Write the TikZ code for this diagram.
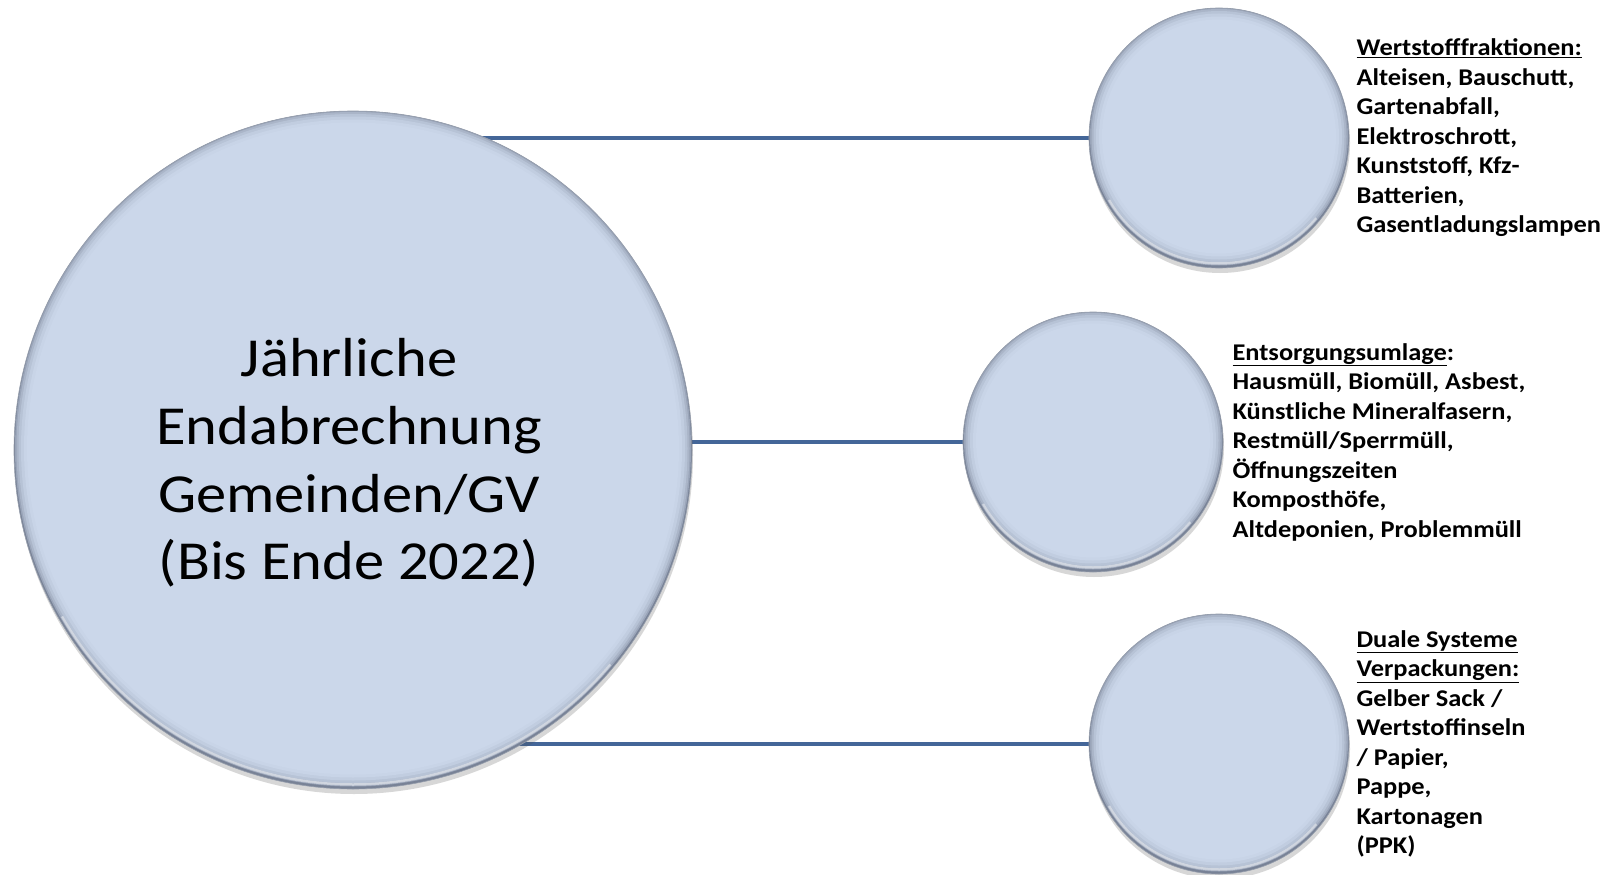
\documentclass[tikz,border=0pt]{standalone}
\usepackage{fontspec}
\setmainfont{Carlito}[FakeStretch=1.1]
\usetikzlibrary{shadows,backgrounds}
\definecolor{cfill}{RGB}{203,215,234}
\definecolor{cedge}{RGB}{120,130,150}
\definecolor{crim}{RGB}{150,158,172}
\definecolor{linkblue}{RGB}{68,102,152}
\tikzset{
  bubble/.style={circle, inner sep=0pt, minimum size=2*#1, fill=cedge, draw=crim, line width=0.6pt,
    drop shadow={shadow xshift=1pt, shadow yshift=-5pt, opacity=0.22, fill=black!70},
    path picture={
      \foreach \d/\m in {1/60,2.5/40,4.5/24,7/12,10/4,13/0}
        \fill[cedge!\m!cfill] ([yshift=1.5pt]path picture bounding box.center) circle[radius=#1-\d];
      \draw[white, opacity=0.45, line width=2.5pt] ([yshift=1.5pt]path picture bounding box.center) ++(150:#1-3) arc[start angle=150, end angle=40, radius=#1-3];
    }},
  bigbubble/.style={bubble=339},
  smallbubble/.style={bubble=130},
  link/.style={draw=linkblue, line width=3.5pt},
  infotext/.style={anchor=west, inner sep=0pt, align=left,
    font=\bfseries\fontsize{24}{29.5}\selectfont},
  maintext/.style={align=center, inner sep=0pt,
    font=\fontsize{55}{67.6}\selectfont}
}
\begin{document}
\begin{tikzpicture}[x=1pt,y=-1pt]
\useasboundingbox (0,0) rectangle (1607,875);
\node[bigbubble] (main) at (353,450) {};
\node[smallbubble] (s1) at (1219,138) {};
\node[smallbubble] (s2) at (1093,442) {};
\node[smallbubble] (s3) at (1219,744) {};
\begin{scope}[on background layer]
\fill[white] (0,0) rectangle (1607,875);
\draw[link] (s1.center) -- (main.center |- s1.center);
\draw[link] (s2.center) -- (main.center |- s2.center);
\draw[link] (s3.center) -- (main.center |- s3.center);
\end{scope}
\node[maintext] (mt) at (349,463) {Jährliche\\Endabrechnung\\Gemeinden/GV\\(Bis Ende 2022)};
\node[infotext] (t1) at ([xshift=7pt]s1.east) {\underline{Wertstofffraktionen:}\\Alteisen, Bauschutt,\\Gartenabfall,\\Elektroschrott,\\Kunststoff, Kfz-\\Batterien,\\Gasentladungslampen};
\node[infotext] (t2) at ([xshift=9pt]s2.east) {\underline{Entsorgungsumlage}:\\Hausmüll, Biomüll, Asbest,\\Künstliche Mineralfasern,\\Restmüll/Sperrmüll,\\Öffnungszeiten\\Komposthöfe,\\Altdeponien, Problemmüll};
\node[infotext] (t3) at ([xshift=7pt]s3.east) {\underline{Duale Systeme}\\\underline{Verpackungen:}\\Gelber Sack /\\Wertstoffinseln\\/ Papier,\\Pappe,\\Kartonagen\\(PPK)};
\end{tikzpicture}
\end{document}
